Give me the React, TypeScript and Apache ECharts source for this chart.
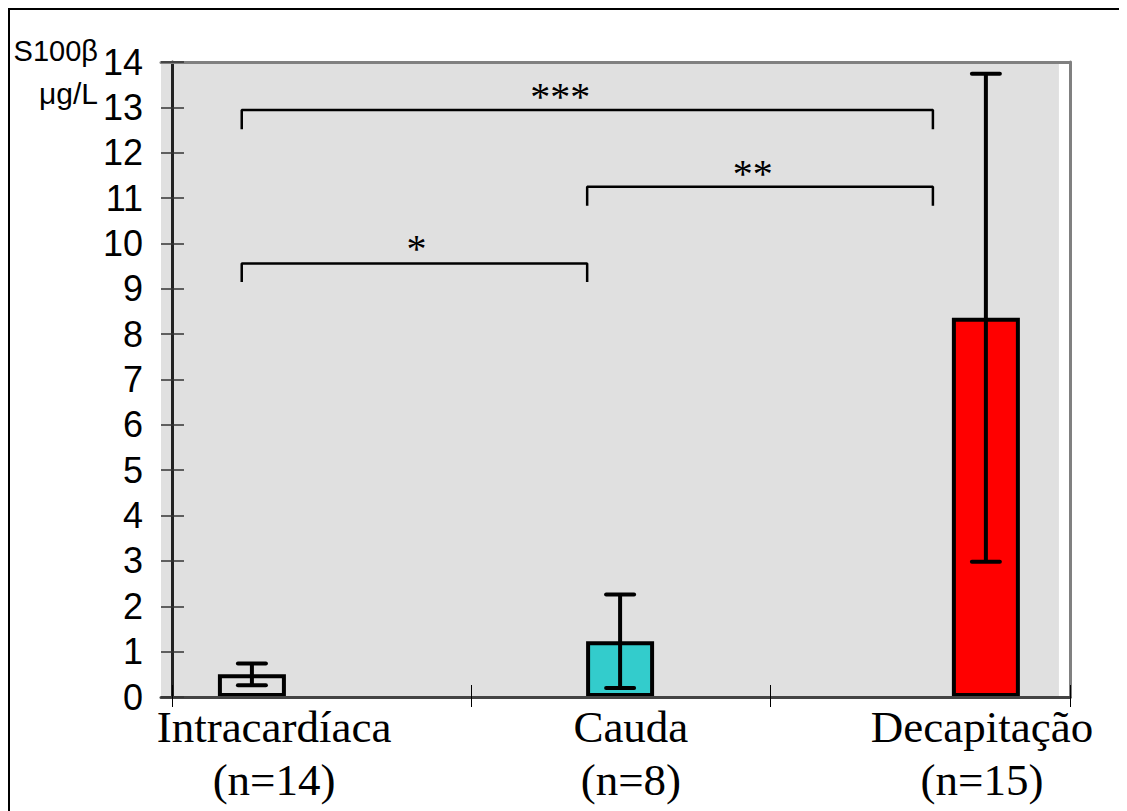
import React, { useEffect, useRef } from "react";
import * as echarts from "echarts";

// ---- data ----
const CATEGORIES = ["Intracardíaca", "Cauda", "Decapitação"];
const GROUP_N = ["(n=14)", "(n=8)", "(n=15)"];
const MEANS = [0.5, 1.23, 8.36];
const SDS = [0.24, 1.03, 5.38];
const BAR_X = [0.267, 1.497, 2.719];
const LABEL_X = [0.341, 1.533, 2.706];
const BAR_COLORS = ["#e0e0e0", "#33cccc", "#ff0000"];
const CATEGORY_BOUNDS = [0, 1, 2, 3];

// significance brackets
const BRACKET_FROM = [0.233, 1.387, 0.233];
const BRACKET_TO = [2.542, 2.542, 1.387];
const BRACKET_TOP = [12.94, 11.25, 9.56];
const BRACKET_FOOT = [12.52, 10.83, 9.15];
const BRACKET_MARK = ["***", "**", "*"];
const MARK_X = [1.297, 1.94, 0.817];
const MARK_Y = [13.24, 11.55, 9.88];

const Y_MIN = 0;
const Y_MAX = 14;
const X_MIN = -0.0367;
const X_MAX = 3;
const BG_X_END = 2.963;

export default function App() {
  const ref = useRef<HTMLDivElement>(null);
  useEffect(() => {
    document.documentElement.style.overflow = "hidden";
    const chart = echarts.init(ref.current!, null, { renderer: "svg" });
    const axisCommon = { type: "value", min: X_MIN, max: X_MAX, splitLine: { show: false } };
    const yCommon = { type: "value", min: Y_MIN, max: Y_MAX, interval: 1, splitLine: { show: false } };

    const bracketSeries = BRACKET_FROM.map((from, i) => ({
      type: "line",
      z: 4,
      silent: true,
      symbol: "none",
      lineStyle: { color: "#000", width: 2.5 },
      data: [
        [from, BRACKET_FOOT[i]],
        [from, BRACKET_TOP[i]],
        [BRACKET_TO[i], BRACKET_TOP[i]],
        [BRACKET_TO[i], BRACKET_FOOT[i]],
      ],
    }));

    chart.setOption({
      animation: false,
      grid: { left: 151, top: 52, right: 57, bottom: 114, containLabel: false },
      xAxis: [
        {
          ...axisCommon,
          position: "bottom",
          z: 3,
          axisLine: { onZero: false, lineStyle: { color: "#444", width: 3 } },
          axisTick: { show: true, inside: false, length: 10, customValues: CATEGORY_BOUNDS, lineStyle: { color: "#000", width: 1 } },
          axisLabel: {
            show: true,
            customValues: LABEL_X,
            margin: 3,
            color: "#000",
            fontFamily: "Liberation Serif",
            fontSize: 45,
            lineHeight: 53,
            formatter: (v: number) => {
              let best = 0;
              LABEL_X.forEach((lx, i) => {
                if (Math.abs(lx - v) < Math.abs(LABEL_X[best] - v)) best = i;
              });
              return CATEGORIES[best] + "\n" + GROUP_N[best];
            },
          },
        },
        {
          ...axisCommon,
          position: "bottom",
          z: 3,
          axisLine: { show: false, onZero: false },
          axisTick: { show: true, inside: true, length: 12, customValues: CATEGORY_BOUNDS, lineStyle: { color: "#000", width: 1 } },
          axisLabel: { show: false },
        },
        {
          ...axisCommon,
          position: "top",
          z: 3,
          axisLine: { show: true, onZero: false, lineStyle: { color: "#808080", width: 3 } },
          axisTick: { show: false },
          axisLabel: { show: false },
        },
      ],
      yAxis: [
        {
          ...yCommon,
          position: "left",
          z: 3,
          axisLine: { show: true, onZero: true, onZeroAxisIndex: 0, lineStyle: { color: "#222", width: 3 } },
          axisTick: { show: true, inside: false, length: 11, lineStyle: { color: "#333", width: 1.5 } },
          axisLabel: { show: true, margin: 18, color: "#000", fontFamily: "Liberation Sans", fontSize: 36 },
        },
        {
          ...yCommon,
          position: "left",
          z: 3,
          axisLine: { show: false, onZero: true, onZeroAxisIndex: 0 },
          axisTick: { show: true, inside: true, length: 12, lineStyle: { color: "#333", width: 1.5 } },
          axisLabel: { show: false },
        },
        {
          ...yCommon,
          position: "right",
          z: 3,
          axisLine: { show: true, onZero: false, lineStyle: { color: "#808080", width: 3 } },
          axisTick: { show: false },
          axisLabel: { show: false },
        },
      ],
      graphic: [
        { type: "text", right: 1117 - 88, top: 26, style: { text: "S100β", font: "29px 'Liberation Sans'", fill: "#000" } },
        { type: "text", right: 1117 - 88, top: 68, style: { text: "μg/L", font: "30px 'Liberation Sans'", fill: "#000" } },
      ],
      series: [
        {
          type: "custom",
          z: 0,
          silent: true,
          data: [[X_MIN, Y_MIN, BG_X_END, Y_MAX]],
          renderItem: (_p: any, api: any) => {
            const a = api.coord([api.value(0), api.value(3)]);
            const b = api.coord([api.value(2), api.value(1)]);
            return { type: "rect", shape: { x: a[0], y: a[1], width: b[0] - a[0], height: b[1] - a[1] }, style: { fill: "#e0e0e0" } };
          },
        },
        {
          type: "bar",
          z: 2,
          xAxisIndex: 0,
          yAxisIndex: 0,
          barWidth: 68,
          data: BAR_X.map((x, i) => ({
            value: [x, MEANS[i]],
            itemStyle: { color: BAR_COLORS[i], borderColor: "#000", borderWidth: 4 },
          })),
        },
        {
          type: "custom",
          z: 4,
          silent: true,
          data: BAR_X.map((x, i) => [x, MEANS[i], SDS[i]]),
          renderItem: (_p: any, api: any) => {
            const x = api.value(0), m = api.value(1), s = api.value(2);
            const t = api.coord([x, m + s]);
            const b = api.coord([x, m - s]);
            const hw = 14;
            const st = { stroke: "#000", lineWidth: 4, lineCap: "round" };
            return {
              type: "group",
              children: [
                { type: "line", shape: { x1: t[0], y1: t[1], x2: b[0], y2: b[1] }, style: { stroke: "#000", lineWidth: 4 } },
                { type: "line", shape: { x1: t[0] - hw, y1: t[1], x2: t[0] + hw, y2: t[1] }, style: st },
                { type: "line", shape: { x1: b[0] - hw, y1: b[1], x2: b[0] + hw, y2: b[1] }, style: st },
              ],
            };
          },
        },
        ...bracketSeries,
        {
          type: "custom",
          z: 4,
          silent: true,
          data: MARK_X.map((x, i) => [x, MARK_Y[i], i]),
          renderItem: (_p: any, api: any) => {
            const p = api.coord([api.value(0), api.value(1)]);
            return {
              type: "text",
              x: p[0],
              y: p[1],
              style: {
                text: BRACKET_MARK[api.value(2)],
                font: "40px 'Liberation Serif'",
                fill: "#000",
                textAlign: "center",
                textVerticalAlign: "middle",
              },
            };
          },
        },
      ],
    });
    return () => chart.dispose();
  }, []);
  return (
    <div style={{ borderTop: "2px solid #000", borderLeft: "2px solid #000", width: 1119, height: 803, boxSizing: "border-box" }}>
      <div ref={ref} style={{ width: 1117, height: 801 }} />
    </div>
  );
}
